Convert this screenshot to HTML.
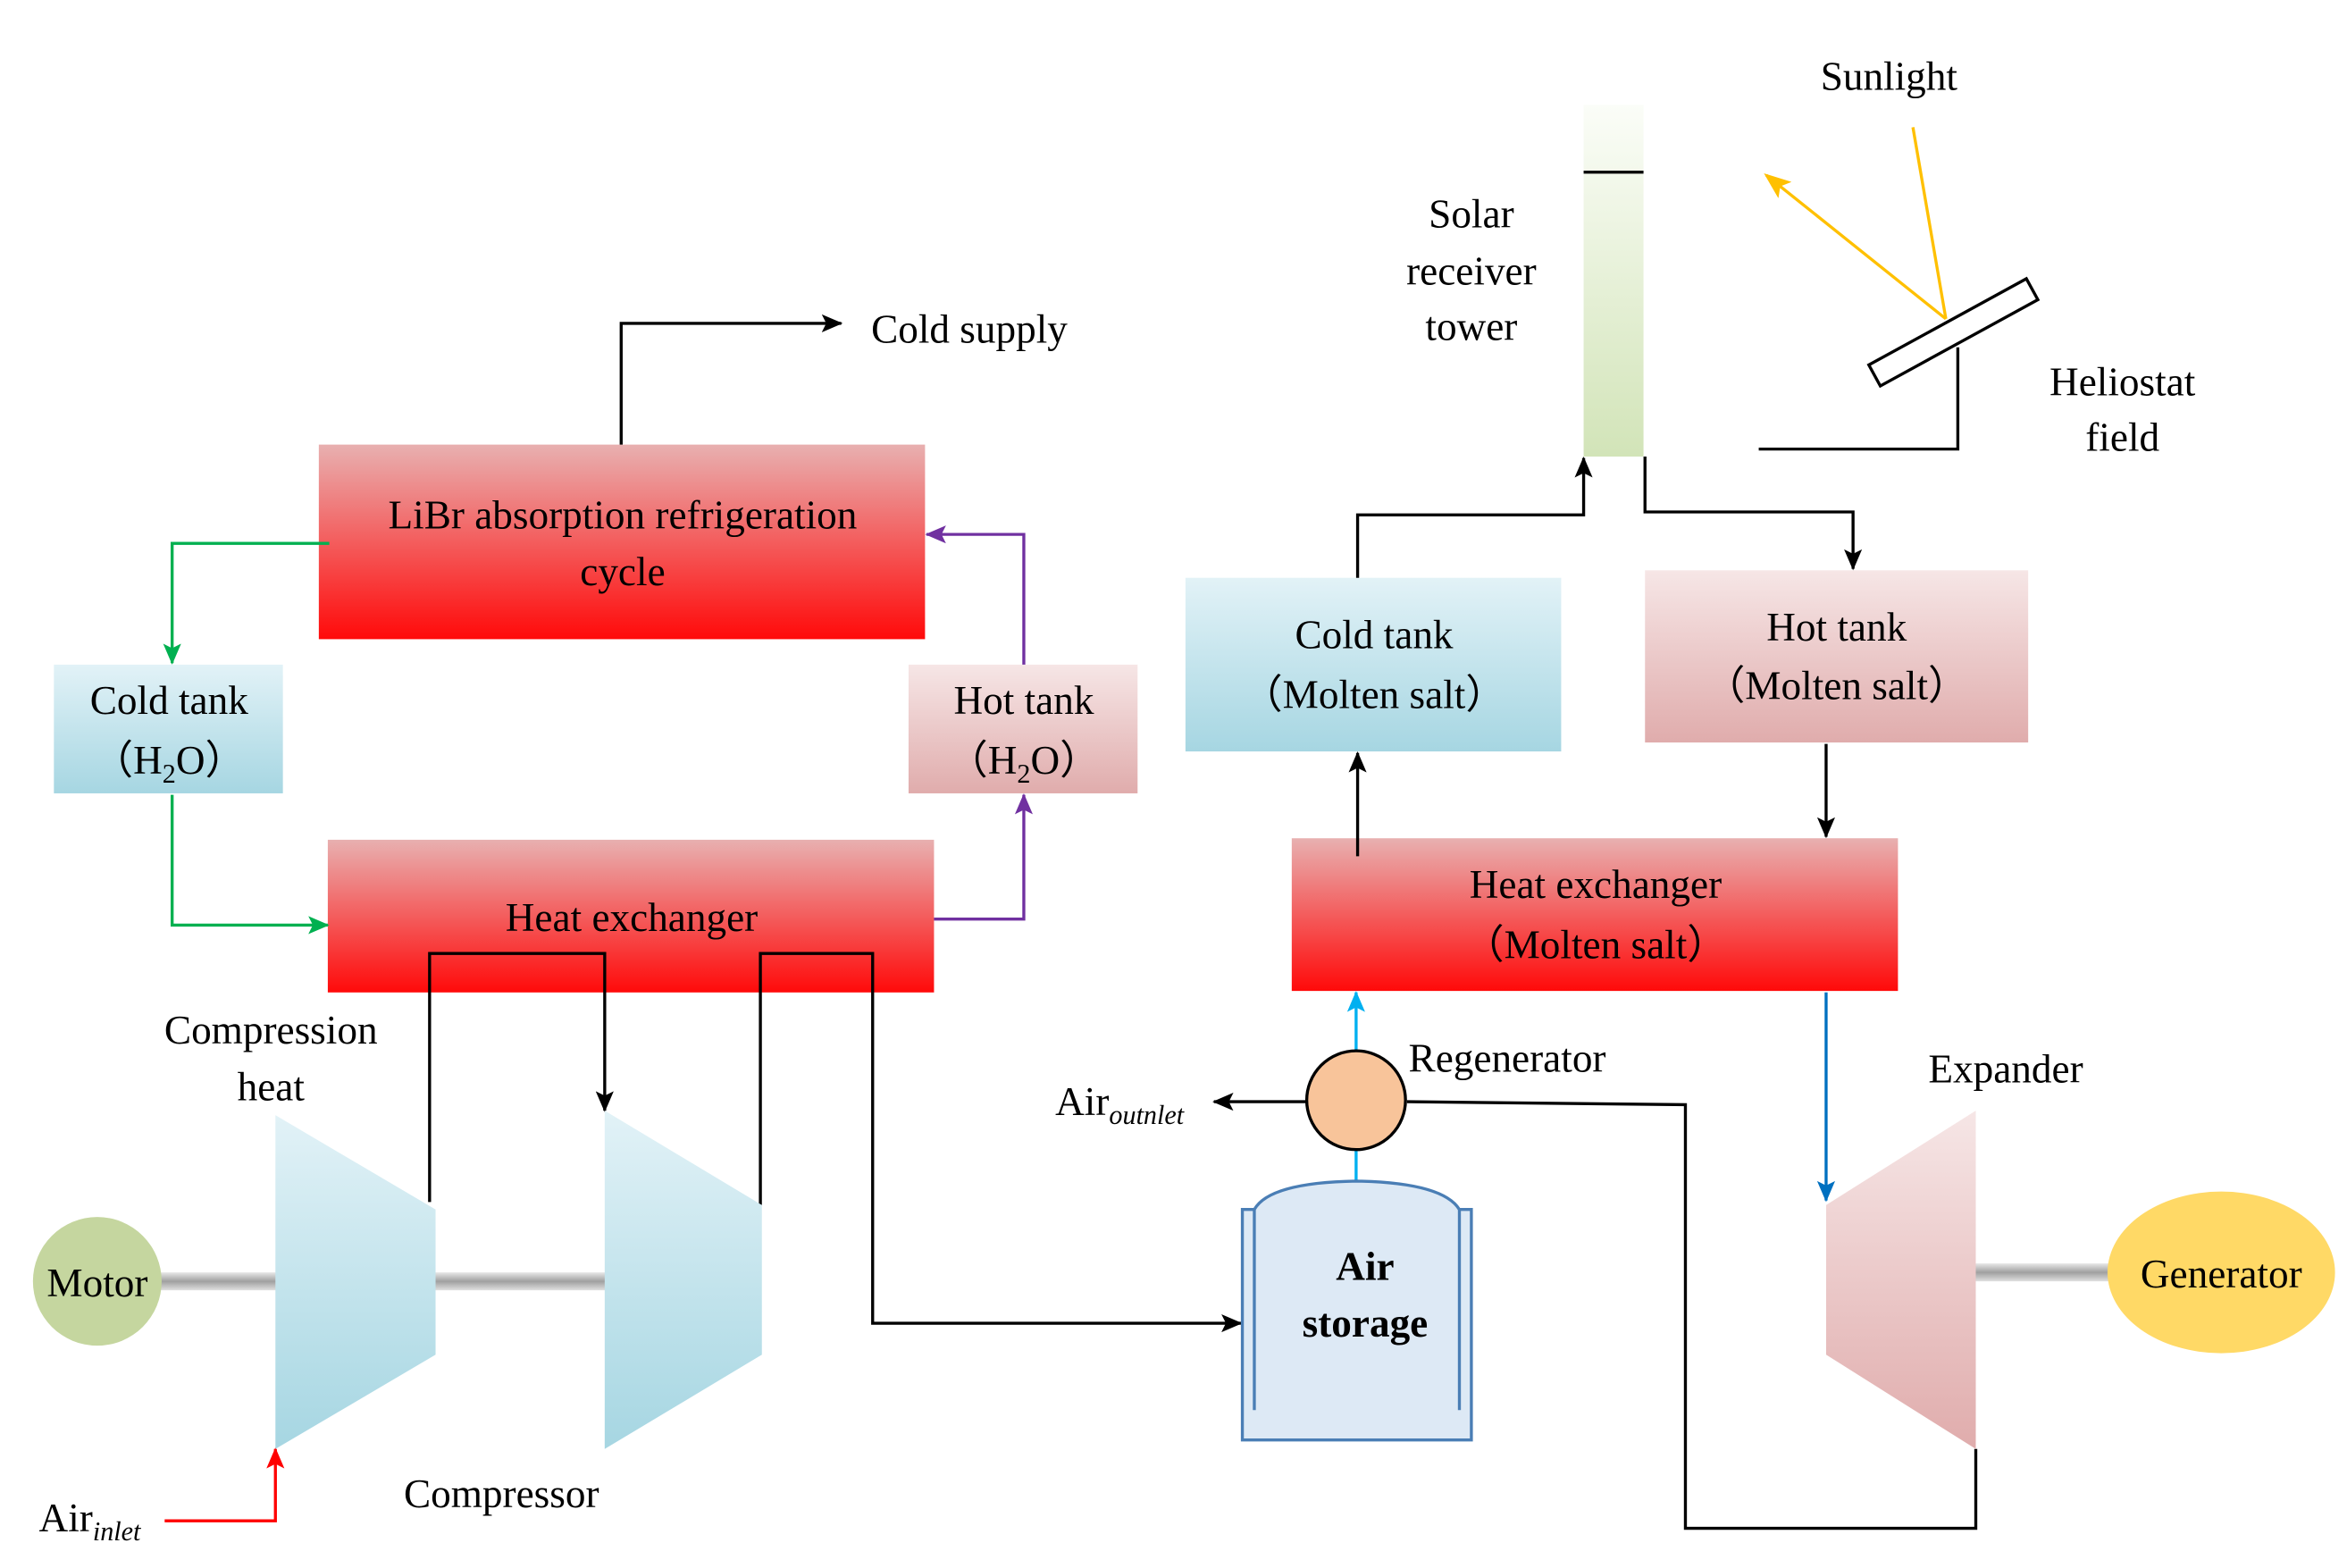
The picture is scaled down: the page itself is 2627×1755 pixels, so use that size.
<!DOCTYPE html>
<html><head><meta charset="utf-8"><style>html,body{margin:0;padding:0;background:#fff}svg{display:block}svg text{font-family:"Liberation Serif","Times New Roman",serif}</style></head>
<body>
<svg width="2627" height="1755" viewBox="0 0 1568 1047.5" xmlns="http://www.w3.org/2000/svg" style="font-family:'Liberation Serif',serif" font-size="27">
<defs>
<linearGradient id="red" x1="0" y1="0" x2="0" y2="1"><stop offset="0" stop-color="#e8b0b0"/><stop offset="1" stop-color="#ff0a0a"/></linearGradient>
<linearGradient id="blue" x1="0" y1="0" x2="0" y2="1"><stop offset="0" stop-color="#e2f2f7"/><stop offset="1" stop-color="#a6d6e2"/></linearGradient>
<linearGradient id="pink" x1="0" y1="0" x2="0" y2="1"><stop offset="0" stop-color="#f6e6e6"/><stop offset="1" stop-color="#e0acac"/></linearGradient>
<linearGradient id="green" x1="0" y1="0" x2="0" y2="1"><stop offset="0" stop-color="#fbfdf8"/><stop offset="1" stop-color="#d2e4b8"/></linearGradient>
<linearGradient id="shaft" x1="0" y1="0" x2="0" y2="1"><stop offset="0" stop-color="#e8e8e8"/><stop offset="0.5" stop-color="#a0a0a0"/><stop offset="1" stop-color="#e0e0e0"/></linearGradient>
<marker id="ak" markerWidth="14" markerHeight="12" refX="13" refY="6" orient="auto" markerUnits="userSpaceOnUse"><path d="M0,0 L14,6 L0,12 L3,6 z" fill="#000"/></marker>
<marker id="ag" markerWidth="14" markerHeight="12" refX="13" refY="6" orient="auto" markerUnits="userSpaceOnUse"><path d="M0,0 L14,6 L0,12 L3,6 z" fill="#00b050"/></marker>
<marker id="ap" markerWidth="14" markerHeight="12" refX="13" refY="6" orient="auto" markerUnits="userSpaceOnUse"><path d="M0,0 L14,6 L0,12 L3,6 z" fill="#7030a0"/></marker>
<marker id="ar" markerWidth="14" markerHeight="12" refX="13" refY="6" orient="auto" markerUnits="userSpaceOnUse"><path d="M0,0 L14,6 L0,12 L3,6 z" fill="#ff0000"/></marker>
<marker id="ab" markerWidth="14" markerHeight="12" refX="13" refY="6" orient="auto" markerUnits="userSpaceOnUse"><path d="M0,0 L14,6 L0,12 L3,6 z" fill="#0070c0"/></marker>
<marker id="ac" markerWidth="14" markerHeight="12" refX="13" refY="6" orient="auto" markerUnits="userSpaceOnUse"><path d="M0,0 L14,6 L0,12 L3,6 z" fill="#00b0f0"/></marker>
<marker id="ay" markerWidth="18" markerHeight="14" refX="16" refY="7" orient="auto" markerUnits="userSpaceOnUse"><path d="M0,0 L18,7 L0,14 L4,7 z" fill="#ffc000"/></marker>
</defs>

<rect x="105" y="850" width="80" height="12" fill="url(#shaft)"/>
<rect x="290" y="850" width="116" height="12" fill="url(#shaft)"/>
<rect x="1318" y="844" width="92" height="12" fill="url(#shaft)"/>

<rect x="1058" y="70" width="40" height="235" fill="url(#green)"/>
<line x1="1058" y1="115" x2="1098" y2="115" stroke="#000" stroke-width="2"/>
<text x="983" y="152" text-anchor="middle">Solar</text>
<text x="983" y="190" text-anchor="middle">receiver</text>
<text x="983" y="227" text-anchor="middle">tower</text>

<text x="1262" y="60" text-anchor="middle">Sunlight</text>
<line x1="1278" y1="85" x2="1300" y2="213" stroke="#ffc000" stroke-width="2"/>
<line x1="1300" y1="213" x2="1180" y2="117" stroke="#ffc000" stroke-width="2" marker-end="url(#ay)"/>
<g transform="translate(1305,222) rotate(-28.7)"><rect x="-60" y="-8" width="120" height="16" fill="#fff" stroke="#000" stroke-width="2"/></g>
<polyline points="1308,232 1308,300 1175,300" fill="none" stroke="#000" stroke-width="2"/>
<text x="1418" y="264" text-anchor="middle">Heliostat</text>
<text x="1418" y="301" text-anchor="middle">field</text>

<rect x="213" y="297" width="405" height="130" fill="url(#red)"/>
<text x="416" y="353" text-anchor="middle">LiBr absorption refrigeration</text>
<text x="416" y="391" text-anchor="middle">cycle</text>
<rect x="219" y="561" width="405" height="102" fill="url(#red)"/>
<text x="422" y="622" text-anchor="middle">Heat exchanger</text>
<rect x="36" y="444" width="153" height="86" fill="url(#blue)"/>
<text x="113" y="477" text-anchor="middle">Cold tank</text>
<text x="113" y="517" text-anchor="middle">（H<tspan font-size="18" dy="6">2</tspan><tspan dy="-6">O）</tspan></text>
<rect x="607" y="444" width="153" height="86" fill="url(#pink)"/>
<text x="684" y="477" text-anchor="middle">Hot tank</text>
<text x="684" y="517" text-anchor="middle">（H<tspan font-size="18" dy="6">2</tspan><tspan dy="-6">O）</tspan></text>
<rect x="792" y="386" width="251" height="116" fill="url(#blue)"/>
<text x="918" y="433" text-anchor="middle">Cold tank</text>
<text x="918" y="473" text-anchor="middle">（Molten salt）</text>
<rect x="1099" y="381" width="256" height="115" fill="url(#pink)"/>
<text x="1227" y="428" text-anchor="middle">Hot tank</text>
<text x="1227" y="467" text-anchor="middle">（Molten salt）</text>
<rect x="863" y="560" width="405" height="102" fill="url(#red)"/>
<text x="1066" y="600" text-anchor="middle">Heat exchanger</text>
<text x="1066" y="640" text-anchor="middle">（Molten salt）</text>

<polyline points="415,297 415,216 562,216" fill="none" stroke="#000" stroke-width="2" marker-end="url(#ak)"/>
<text x="582" y="229">Cold supply</text>
<polyline points="220,363 115,363 115,443" fill="none" stroke="#00b050" stroke-width="2" marker-end="url(#ag)"/>
<polyline points="115,531 115,618 219,618" fill="none" stroke="#00b050" stroke-width="2" marker-end="url(#ag)"/>
<polyline points="624,614 684,614 684,531" fill="none" stroke="#7030a0" stroke-width="2" marker-end="url(#ap)"/>
<polyline points="684,444 684,357 619,357" fill="none" stroke="#7030a0" stroke-width="2" marker-end="url(#ap)"/>
<polyline points="907,386 907,344 1058,344 1058,306" fill="none" stroke="#000" stroke-width="2" marker-end="url(#ak)"/>
<polyline points="1099,305 1099,342 1238,342 1238,380" fill="none" stroke="#000" stroke-width="2" marker-end="url(#ak)"/>
<line x1="907" y1="572" x2="907" y2="503" stroke="#000" stroke-width="2" marker-end="url(#ak)"/>
<line x1="1220" y1="497" x2="1220" y2="559" stroke="#000" stroke-width="2" marker-end="url(#ak)"/>
<line x1="1220" y1="663" x2="1220" y2="802" stroke="#0070c0" stroke-width="2" marker-end="url(#ab)"/>
<polyline points="287,803 287,637 404,637 404,742" fill="none" stroke="#000" stroke-width="2" marker-end="url(#ak)"/>
<polyline points="508,805 508,637 583,637 583,884 829,884" fill="none" stroke="#000" stroke-width="2" marker-end="url(#ak)"/>
<polyline points="1320,968 1320,1021 1126,1021 1126,738 940,736" fill="none" stroke="#000" stroke-width="2"/>
<line x1="906" y1="702" x2="906" y2="663" stroke="#00b0f0" stroke-width="2" marker-end="url(#ac)"/>
<line x1="906" y1="768" x2="906" y2="792" stroke="#00b0f0" stroke-width="2"/>
<line x1="873" y1="736" x2="811" y2="736" stroke="#000" stroke-width="2" marker-end="url(#ak)"/>
<polyline points="110,1016 184,1016 184,968" fill="none" stroke="#ff0000" stroke-width="2" marker-end="url(#ar)"/>

<polygon points="184,745 291,808 291,905 184,968" fill="url(#blue)"/>
<polygon points="404,742 509,805 509,905 404,968" fill="url(#blue)"/>
<polygon points="1220,805 1320,742 1320,968 1220,905" fill="url(#pink)"/>
<circle cx="65" cy="856" r="43" fill="#c5d69f"/>
<text x="65" y="866" text-anchor="middle">Motor</text>
<ellipse cx="1484" cy="850" rx="76" ry="54" fill="#ffd966"/>
<text x="1484" y="860" text-anchor="middle">Generator</text>
<circle cx="906" cy="735" r="33" fill="#f8c49a" stroke="#000" stroke-width="2"/>
<text x="941" y="716">Regenerator</text>
<text x="705" y="745">Air<tspan font-size="18" font-style="italic" dy="6">outnlet</tspan></text>
<text x="26" y="1023">Air<tspan font-size="18" font-style="italic" dy="6">inlet</tspan></text>
<text x="181" y="697" text-anchor="middle">Compression</text>
<text x="181" y="735" text-anchor="middle">heat</text>
<text x="335" y="1007" text-anchor="middle">Compressor</text>
<text x="1340" y="723" text-anchor="middle">Expander</text>

<path d="M830,808 L838,808 Q848,790 906,789 Q964,790 975,808 L983,808 L983,962 L830,962 Z" fill="#dde9f5" stroke="#4a7eb5" stroke-width="2"/>
<line x1="838" y1="808" x2="838" y2="942" stroke="#4a7eb5" stroke-width="2"/>
<line x1="975" y1="808" x2="975" y2="942" stroke="#4a7eb5" stroke-width="2"/>
<text x="912" y="855" text-anchor="middle" font-weight="bold">Air</text>
<text x="912" y="893" text-anchor="middle" font-weight="bold">storage</text>
</svg>
</body></html>
